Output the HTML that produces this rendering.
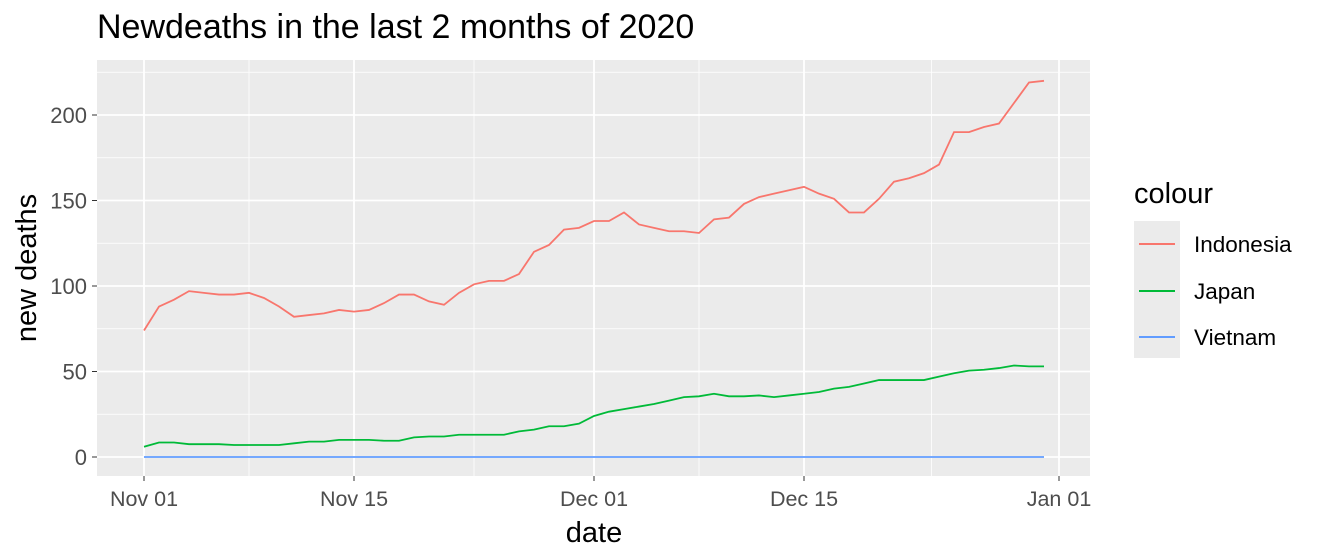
<!DOCTYPE html>
<html><head><meta charset="utf-8"><style>
body{margin:0;background:#fff;}
svg text{font-family:"Liberation Sans",Arial,sans-serif;}
</style></head><body>
<svg width="1318" height="554" xmlns="http://www.w3.org/2000/svg">
<text x="97" y="38" font-size="34" fill="#000">Newdeaths in the last 2 months of 2020</text>
<rect x="97" y="60" width="993" height="416" fill="#ebebeb"/>
<g id="grid"></g>
<g id="series"></g>
<g id="axes"></g>
<text x="594" y="542" font-size="29" text-anchor="middle">date</text>
<text transform="translate(36,268) rotate(-90)" font-size="29" text-anchor="middle">new deaths</text>
<g>
<text x="1134" y="203" font-size="29">colour</text>
<rect x="1134" y="221" width="46" height="137" fill="#ebebeb"/>
<line x1="1139" x2="1175" y1="244" y2="244" stroke="#F8766D" stroke-width="2"/>
<line x1="1139" x2="1175" y1="291" y2="291" stroke="#00BA38" stroke-width="2"/>
<line x1="1139" x2="1175" y1="337" y2="337" stroke="#619CFF" stroke-width="2"/>
<text x="1194" y="252" font-size="22.5">Indonesia</text>
<text x="1194" y="299" font-size="22.5">Japan</text>
<text x="1194" y="345" font-size="22.5">Vietnam</text>
</g>
</svg>
<script>
const indonesia=[74,88,92,97,96,95,95,96,93,88,82,83,84,86,85,86,90,95,95,91,89,96,101,103,103,107,120,124,133,134,138,138,143,136,134,132,132,131,139,140,148,152,154,156,158,154,151,143,143,151,161,163,166,171,190,190,193,195,207,219,220];
const japan=[6,8.5,8.5,7.5,7.5,7.5,7,7,7,7,8,9,9,10,10,10,9.5,9.5,11.5,12,12,13,13,13,13,15,16,18,18,19.5,24,26.5,28,29.5,31,33,35,35.5,37,35.5,35.5,36,35,36,37,38,40,41,43,45,45,45,45,47,49,50.5,51,52,53.5,53,53];
const vietnam=new Array(61).fill(0);
const yTicks=[0,50,100,150,200];
const xTickDays=[0,14,30,44,61];
const xTickLabels=["Nov 01","Nov 15","Dec 01","Dec 15","Jan 01"];
const NS="http://www.w3.org/2000/svg";
const xs=d=>144+d*15.0;
const ys=v=>457-v*1.71;
function mk(tag,attrs,parent){const e=document.createElementNS(NS,tag);for(const k in attrs)e.setAttribute(k,attrs[k]);document.getElementById(parent).appendChild(e);return e;}
for(let i=0;i<yTicks.length;i++){const v=yTicks[i]+25;const g=mk('line',{x1:97,x2:1090,y1:ys(v),y2:ys(v),stroke:'#fff','stroke-width':0.8},'grid');

}
for(let i=0;i<xTickDays.length-1;i++){const d=(xTickDays[i]+xTickDays[i+1])/2;const g=mk('line',{x1:xs(d),x2:xs(d),y1:60,y2:476,stroke:'#fff','stroke-width':0.8},'grid');

}
yTicks.forEach(v=>{const g=mk('line',{x1:97,x2:1090,y1:ys(v),y2:ys(v),stroke:'#fff','stroke-width':1.8},'grid');


const t=mk('text',{x:87,y:ys(v)+8,'font-size':22,'text-anchor':'end',fill:'#4d4d4d'},'axes');t.textContent=v;


const k=mk('line',{x1:92,x2:97,y1:ys(v),y2:ys(v),stroke:'#333','stroke-width':1},'axes');

});
xTickDays.forEach((d,i)=>{const g=mk('line',{x1:xs(d),x2:xs(d),y1:60,y2:476,stroke:'#fff','stroke-width':1.8},'grid');


const t=mk('text',{x:xs(d),y:506,'font-size':21.5,'text-anchor':'middle',fill:'#4d4d4d'},'axes');t.textContent=xTickLabels[i];


const k=mk('line',{x1:xs(d),x2:xs(d),y1:476,y2:481,stroke:'#333','stroke-width':1},'axes');

});
function line(arr,color,name){const p=mk('polyline',{points:arr.map((v,i)=>xs(i)+','+ys(v)).join(' '),fill:'none',stroke:color,'stroke-width':1.8},'series');

}
line(vietnam,'#619CFF','line-vietnam');
line(japan,'#00BA38','line-japan');
line(indonesia,'#F8766D','line-indonesia');
</script>
</body></html>
